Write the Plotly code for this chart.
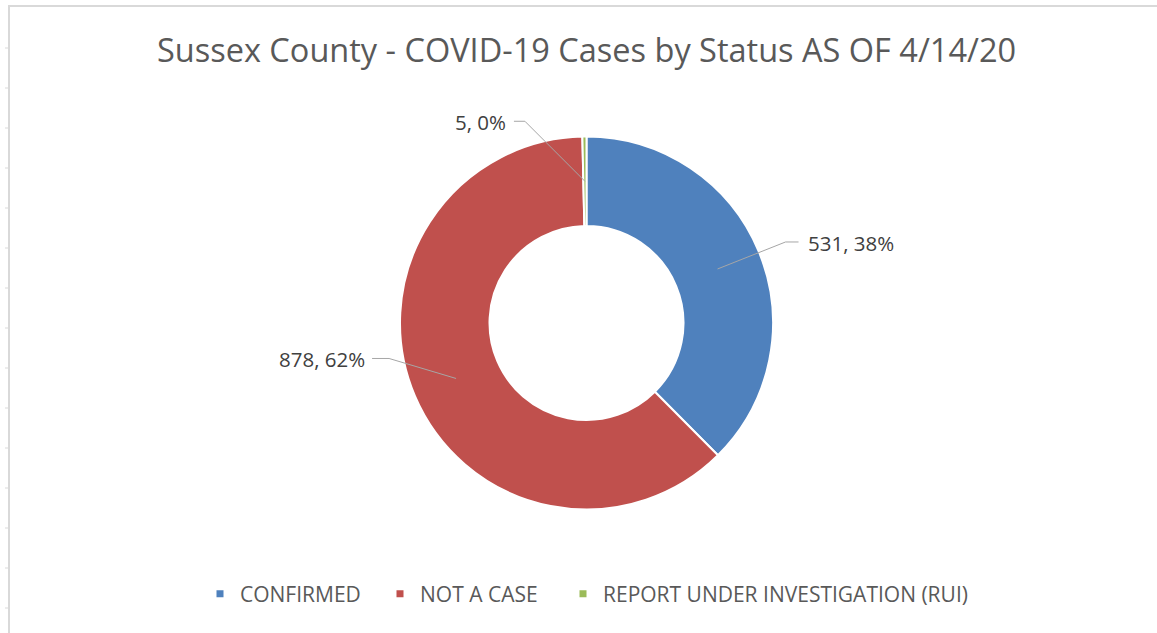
import plotly.graph_objects as go
import math

# ---- data ----
categories = ["CONFIRMED", "NOT A CASE", "REPORT UNDER INVESTIGATION (RUI)"]
counts = [531, 878, 5]
colors = ["#4f81bd", "#c0504d", "#9bbb59"]
title_text = "Sussex County - COVID-19 Cases by Status AS OF 4/14/20"

W, H = 1157, 633
FONT = "Open Sans"

def px(x):
    return x / W

def py(y):
    return 1 - y / H

# pie geometry (pixels)
cx, cy, R = 586.5, 323.0, 186.5
hole = 0.52

fig = go.Figure()
fig.add_trace(go.Pie(
    labels=categories, values=counts, sort=False, direction="clockwise",
    rotation=0, hole=hole, textinfo="none", hoverinfo="label+value+percent",
    marker=dict(colors=colors, line=dict(color="white", width=2)),
    domain=dict(x=[px(cx - R), px(cx + R)], y=[py(cy + R), py(cy - R)]),
    showlegend=False,
))

# legend via marker-only traces, one legend box per entry for spacing
legend_ids = ["legend", "legend2", "legend3"]
for name, col, lid in zip(categories, colors, legend_ids):
    fig.add_trace(go.Scatter(x=[None], y=[None], mode="markers", name=name,
                             legend=lid,
                             marker=dict(symbol="square", size=7, color=col)))

# data labels with leader lines
total = sum(counts)
# (elbow dx, elbow dy, end dx, text gap, anchor side) relative to anchor point
label_style = [
    (68, -27, 81, 7, "left"),
    (-67, -20, -84, 5, "right"),
    (-60, -60, -71, 6, "right"),
]
shapes = []
annotations = []
cum = 0
rmid = R * (1 + hole) / 2
for v, st in zip(counts, label_style):
    mid = (cum + v / 2) / total * 2 * math.pi
    cum += v
    ax_ = cx + rmid * math.sin(mid)
    ay_ = cy - rmid * math.cos(mid)
    ex, ey, endx, gap, side = st
    x1, y1 = ax_ + ex, ay_ + ey
    x2 = ax_ + endx
    shapes.append(dict(type="path", xref="paper", yref="paper",
                       path=f"M {px(ax_)},{py(ay_)} L {px(x1)},{py(y1)} L {px(x2)},{py(y1)}",
                       line=dict(color="#a6a6a6", width=1)))
    pct = round(v / total * 100)
    tx = x2 + gap if side == "left" else x2 - gap
    annotations.append(dict(x=px(tx), y=py(y1 + 1), xref="paper", yref="paper",
                            text=f"{v}, {pct}%", showarrow=False,
                            xanchor=side, yanchor="middle",
                            font=dict(family=FONT, size=20.5, color="#404040")))

# chart frame (top and left edges with small ticks)
frame = "#d9d9d9"
shapes.append(dict(type="line", xref="paper", yref="paper", x0=px(8), x1=1,
                   y0=py(6), y1=py(6), line=dict(color=frame, width=2)))
shapes.append(dict(type="line", xref="paper", yref="paper", x0=px(9), x1=px(9),
                   y0=py(6), y1=0, line=dict(color=frame, width=2)))
for ty in range(48, H, 40):
    shapes.append(dict(type="line", xref="paper", yref="paper", x0=px(5), x1=px(9),
                       y0=py(ty), y1=py(ty), line=dict(color=frame, width=1)))

legend_style = dict(orientation="h", xanchor="left", y=py(594), yanchor="middle",
                    font=dict(family=FONT, size=21, color="#595959"),
                    itemwidth=30, bgcolor="rgba(0,0,0,0)")
legend_x = [225, 405, 588]

fig.update_layout(
    width=W, height=H,
    margin=dict(l=0, r=0, t=0, b=0),
    paper_bgcolor="white", plot_bgcolor="white",
    title=dict(text=title_text, x=px(cx), xanchor="center", y=py(51), yanchor="middle",
               font=dict(family=FONT, size=32.5, color="#595959")),
    xaxis=dict(visible=False), yaxis=dict(visible=False),
    shapes=shapes, annotations=annotations,
)
for lid, lx in zip(legend_ids, legend_x):
    fig.update_layout({lid: dict(legend_style, x=px(lx - 25))})

fig.write_html("out.html", config={"displayModeBar": False},
               post_script="document.body.style.margin='0';")
